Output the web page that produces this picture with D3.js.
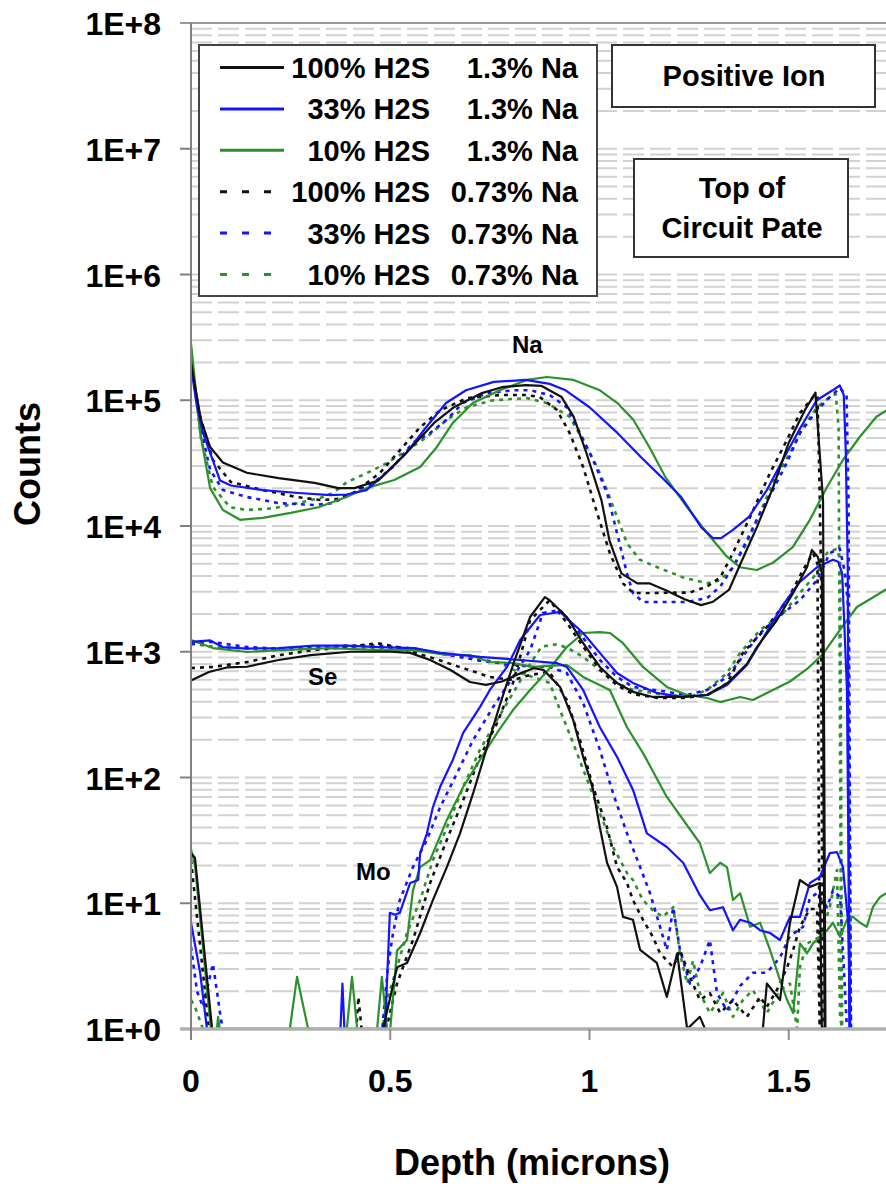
<!DOCTYPE html>
<html><head><meta charset="utf-8">
<script src="https://cdn.jsdelivr.net/npm/d3@7"></script>
<style>
body{margin:0;background:#fff}
svg{display:block}
text{font-family:"Liberation Sans",Arial,sans-serif;font-weight:bold;fill:#000}
</style>
</head><body>
<svg id="c" width="886" height="1188"></svg>
<script>
// ---------- DATA: [depth (microns), counts] ----------
// Na profiles
const na_b1 = [[0,2.0e5],[0.012,1.2e5],[0.025,7.0e4],[0.048,4.25e4],[0.08,3.2e4],[0.14,2.65e4],[0.22,2.4e4],[0.31,2.2e4],[0.37,2.0e4],[0.41,2.0e4],[0.47,2.3e4],[0.54,3.8e4],[0.61,6.6e4],[0.66,8.8e4],[0.73,1.14e5],[0.78,1.27e5],[0.84,1.32e5],[0.88,1.3e5],[0.93,1.06e5],[0.96,7.4e4],[0.99,4.0e4],[1.03,1.6e4],[1.05,7.7e3],[1.08,4.2e3],[1.12,3.5e3],[1.15,3.5e3],[1.19,3.1e3],[1.24,2.6e3],[1.28,2.35e3],[1.31,2.5e3],[1.35,3.1e3],[1.38,5.1e3],[1.42,9.8e3],[1.46,2.0e4],[1.50,4.6e4],[1.54,8.3e4],[1.567,1.15e5],[1.574,5.5e4],[1.586,1.6e4],[1.592,1]];
const na_u1 = [[0,1.85e5],[0.015,9e4],[0.03,5.5e4],[0.073,2.3e4],[0.1,2.1e4],[0.18,1.93e4],[0.27,1.83e4],[0.35,1.76e4],[0.39,1.78e4],[0.44,1.93e4],[0.49,2.64e4],[0.54,3.8e4],[0.59,6.1e4],[0.64,9.5e4],[0.69,1.2e5],[0.76,1.4e5],[0.84,1.45e5],[0.9,1.35e5],[0.94,1.2e5],[1.0,8.8e4],[1.07,5.5e4],[1.13,3.5e4],[1.18,2.46e4],[1.23,1.7e4],[1.28,9.8e3],[1.31,8.0e3],[1.33,8.0e3],[1.36,9.3e3],[1.40,1.18e4],[1.445,1.93e4],[1.485,3.35e4],[1.53,6.1e4],[1.57,1.0e5],[1.61,1.2e5],[1.628,1.31e5],[1.638,1.1e5],[1.643,4e4],[1.648,4.7e3],[1.652,1]];
const na_g1 = [[0,2.85e5],[0.023,5.5e4],[0.048,2.0e4],[0.08,1.34e4],[0.123,1.12e4],[0.18,1.16e4],[0.25,1.27e4],[0.32,1.41e4],[0.39,1.7e4],[0.44,2.0e4],[0.51,2.32e4],[0.575,2.95e4],[0.617,4.25e4],[0.657,6.6e4],[0.707,9.5e4],[0.775,1.2e5],[0.843,1.45e5],[0.893,1.53e5],[0.96,1.45e5],[1.026,1.2e5],[1.07,9.5e4],[1.11,7.0e4],[1.15,4.25e4],[1.19,2.46e4],[1.245,1.41e4],[1.295,8.8e3],[1.345,5.7e3],[1.378,4.7e3],[1.42,4.47e3],[1.46,5.1e3],[1.51,6.8e3],[1.553,1.12e4],[1.596,2.04e4],[1.636,3.35e4],[1.678,5.1e4],[1.72,7.4e4],[1.745,8.3e4]];
const na_b2 = [[0,2.0e5],[0.02,8e4],[0.055,3.35e4],[0.1,2.24e4],[0.18,1.93e4],[0.265,1.7e4],[0.324,1.61e4],[0.366,1.64e4],[0.407,1.83e4],[0.474,2.64e4],[0.524,4.0e4],[0.575,6.1e4],[0.625,8.3e4],[0.693,1.04e5],[0.775,1.1e5],[0.843,1.1e5],[0.875,1.06e5],[0.918,8.4e4],[0.95,5.5e4],[0.984,2.95e4],[1.019,1.27e4],[1.051,6.1e3],[1.084,3.5e3],[1.11,2.93e3],[1.15,2.93e3],[1.21,2.95e3],[1.25,2.95e3],[1.295,3.3e3],[1.328,3.9e3],[1.36,6.1e3],[1.403,1.18e4],[1.453,2.64e4],[1.495,4.8e4],[1.528,7.9e4],[1.561,1.06e5],[1.572,1.1e5],[1.577,2.3e4],[1.581,4.2e3],[1.585,1]];
const na_u2 = [[0,1.8e5],[0.03,5e4],[0.048,2.8e4],[0.08,1.93e4],[0.14,1.7e4],[0.22,1.52e4],[0.31,1.47e4],[0.356,1.52e4],[0.407,1.83e4],[0.457,2.2e4],[0.507,2.95e4],[0.557,4.6e4],[0.6,5.5e4],[0.642,7.0e4],[0.682,9.5e4],[0.743,1.14e5],[0.81,1.2e5],[0.853,1.2e5],[0.9,1.1e5],[0.943,8.8e4],[0.976,5.5e4],[1.009,3.35e4],[1.044,1.83e4],[1.069,8.8e3],[1.094,4.2e3],[1.109,2.93e3],[1.134,2.49e3],[1.194,2.49e3],[1.245,2.49e3],[1.295,2.67e3],[1.328,3.3e3],[1.36,4.7e3],[1.395,7.7e3],[1.428,1.27e4],[1.46,1.93e4],[1.495,3.17e4],[1.528,5.5e4],[1.571,8.3e4],[1.603,1.06e5],[1.628,1.25e5],[1.645,1.1e5],[1.65,1.6e4],[1.656,1]];
const na_g2 = [[0,2.3e5],[0.025,5e4],[0.055,2.04e4],[0.098,1.41e4],[0.141,1.34e4],[0.206,1.38e4],[0.267,1.52e4],[0.324,1.67e4],[0.356,1.83e4],[0.392,2.24e4],[0.442,2.64e4],[0.492,3.17e4],[0.542,4.0e4],[0.592,5.1e4],[0.642,7.0e4],[0.692,8.8e4],[0.758,1.0e5],[0.843,1.04e5],[0.893,9.5e4],[0.95,7.4e4],[0.984,4.8e4],[1.019,2.95e4],[1.044,1.93e4],[1.069,1.18e4],[1.094,7.3e3],[1.126,5.4e3],[1.177,4.6e3],[1.235,3.9e3],[1.295,3.5e3],[1.328,3.7e3],[1.36,4.7e3],[1.395,7.3e3],[1.428,1.27e4],[1.46,2.2e4],[1.503,3.8e4],[1.536,6.1e4],[1.571,8.8e4],[1.603,1.06e5],[1.618,1.12e5],[1.625,6e4],[1.632,1]];

// Se profiles
const se_b1 = [[0,590],[0.045,690],[0.09,750],[0.14,760],[0.22,860],[0.3,940],[0.4,1000],[0.45,1000],[0.5,1000],[0.55,980],[0.6,860],[0.65,720],[0.7,575],[0.74,545],[0.78,580],[0.83,680],[0.86,740],[0.885,716],[0.926,525],[0.959,287],[0.984,146],[1.009,80],[1.026,40],[1.044,21],[1.069,13.5],[1.084,7.8],[1.109,7.4],[1.127,4.25],[1.169,3.35],[1.194,1.8],[1.22,4.0],[1.245,1],[1.277,1.25],[1.29,1],[1.435,1],[1.445,2.3],[1.478,1.7],[1.503,7.0],[1.528,15.3],[1.553,13.5],[1.578,14.5],[1.583,1]];
const se_u1 = [[0,1200],[0.048,1230],[0.08,1090],[0.14,1060],[0.22,1070],[0.31,1120],[0.39,1120],[0.47,1090],[0.56,1070],[0.625,980],[0.725,910],[0.826,860],[0.918,813],[0.943,757],[0.984,497],[1.026,251],[1.069,146],[1.109,80],[1.144,36],[1.194,28],[1.235,21],[1.277,11.6],[1.302,8.8],[1.335,9.3],[1.36,6.1],[1.378,7.4],[1.403,7.0],[1.428,6.1],[1.453,5.8],[1.478,5.1],[1.503,7.8],[1.528,7.8],[1.553,14.5],[1.578,16.2],[1.603,25],[1.621,25.5],[1.636,19.4],[1.649,7.0],[1.654,1]];
const se_g1 = [[0,1240],[0.055,1070],[0.141,995],[0.223,1030],[0.349,1070],[0.474,1030],[0.557,1030],[0.642,942],[0.7,942],[0.75,829],[0.808,813],[0.858,757],[0.943,785],[0.984,630],[1.051,497],[1.094,251],[1.134,157],[1.194,70],[1.277,30],[1.302,17.4],[1.328,21],[1.345,19.4],[1.36,10.6],[1.378,12],[1.403,6.5],[1.428,7],[1.453,4.25],[1.478,2.45],[1.496,1.7],[1.511,1.34],[1.528,4.8],[1.546,4.0],[1.561,4.8],[1.596,6.1],[1.611,7.0],[1.629,5.4],[1.646,7.4],[1.661,7.8],[1.679,7.0],[1.696,6.5],[1.711,9.3],[1.729,11.2],[1.745,12]];
const se_b2 = [[0,742],[0.055,757],[0.141,829],[0.223,942],[0.306,1030],[0.392,1090],[0.467,1170],[0.517,1090],[0.598,908],[0.683,742],[0.75,630],[0.808,596],[0.85,653],[0.9,690],[0.943,413],[0.976,199],[1.009,84],[1.044,40],[1.069,19.4],[1.094,14.5],[1.109,10.6],[1.134,7.4],[1.159,5.4],[1.177,4.0],[1.21,3.1],[1.227,4.25],[1.252,2.6],[1.277,1.7],[1.302,1.93],[1.328,1.34],[1.36,1.7],[1.395,1.25],[1.428,1.8],[1.445,1.5],[1.47,2.04],[1.496,3.1],[1.511,4.25],[1.528,6.5],[1.553,9],[1.571,9],[1.578,1]];
const se_u2 = [[0,1150],[0.05,1200],[0.14,1090],[0.22,1060],[0.31,1090],[0.39,1120],[0.47,1120],[0.56,1060],[0.64,950],[0.725,850],[0.775,813],[0.858,757],[0.9,757],[0.943,677],[0.984,391],[1.026,166],[1.059,75],[1.094,36],[1.127,19.4],[1.152,12],[1.177,6.5],[1.194,4.25],[1.21,9.3],[1.227,4.25],[1.252,2.3],[1.277,3.1],[1.302,5.1],[1.32,1.93],[1.345,1.4],[1.378,2.2],[1.41,2.8],[1.445,2.8],[1.478,3.7],[1.503,5.5],[1.536,6.5],[1.553,11],[1.571,12],[1.596,9.3],[1.611,12.7],[1.629,11.2],[1.646,1]];
const se_g2 = [[0,1160],[0.05,1100],[0.14,1060],[0.22,1030],[0.31,1060],[0.4,1090],[0.5,1060],[0.6,1000],[0.7,910],[0.775,813],[0.826,677],[0.858,630],[0.9,565],[0.926,344],[0.959,188],[0.994,96],[1.026,52],[1.059,28],[1.094,17.4],[1.109,15.3],[1.134,10.6],[1.159,8.8],[1.184,7.8],[1.21,9.3],[1.227,4.0],[1.245,2.3],[1.26,3.5],[1.277,1.93],[1.302,1.34],[1.335,1.93],[1.36,1.25],[1.385,1.7],[1.41,2.04],[1.445,1.34],[1.478,2.04],[1.503,2.3],[1.521,1],[1.528,3.1],[1.546,4.8],[1.578,5.4],[1.603,9.3],[1.621,18.4],[1.629,1.2],[1.635,1]];

// Mo profiles
const mo_b1 = [[0,25],[0.01,23],[0.053,1],[0.482,1],[0.517,3.1],[0.542,3.35],[0.575,5.8],[0.607,10.6],[0.642,19.4],[0.675,36],[0.708,75],[0.743,175],[0.775,377],[0.808,785],[0.851,1890],[0.888,2720],[0.9,2570],[0.943,1890],[0.984,1170],[1.026,757],[1.069,565],[1.109,480],[1.159,437],[1.235,437],[1.295,453],[1.345,560],[1.395,800],[1.42,1090],[1.47,1780],[1.511,2930],[1.546,4720],[1.558,6450],[1.573,5670],[1.583,4230],[1.586,497],[1.59,1]];
const mo_u1 = [[0,7],[0.023,2.8],[0.04,1],[0.375,1],[0.38,2.3],[0.385,1],[0.487,1],[0.499,8.4],[0.512,8.1],[0.524,8.4],[0.55,14.5],[0.57,15.3],[0.575,25],[0.592,36],[0.607,58],[0.625,84],[0.657,138],[0.683,226],[0.725,363],[0.75,497],[0.793,757],[0.826,1240],[0.876,1960],[0.926,2070],[0.984,1410],[1.026,980],[1.069,677],[1.109,565],[1.169,470],[1.235,437],[1.295,453],[1.345,543],[1.395,785],[1.445,1440],[1.485,2350],[1.528,3590],[1.571,4700],[1.611,5400],[1.624,5200],[1.634,4200],[1.641,1240],[1.646,497],[1.654,1]];
const mo_g1 = [[0,27],[0.01,20],[0.05,1],[0.065,1],[0.068,1.25],[0.072,1],[0.248,1],[0.266,2.6],[0.294,1],[0.391,1],[0.404,2.6],[0.417,1],[0.467,1],[0.479,2.6],[0.492,1],[0.5,1],[0.517,4.2],[0.542,5.1],[0.557,12.7],[0.575,19.4],[0.6,22],[0.642,46],[0.683,84],[0.725,138],[0.768,226],[0.808,344],[0.851,497],[0.901,742],[0.943,1090],[0.984,1410],[1.026,1430],[1.051,1410],[1.084,1170],[1.134,757],[1.194,525],[1.245,453],[1.295,429],[1.328,398],[1.378,437],[1.41,413],[1.445,470],[1.503,580],[1.546,730],[1.586,960],[1.629,1500],[1.671,2270],[1.711,2700],[1.745,3150]];
const mo_b2 = [[0,22],[0.045,1],[0.415,1],[0.42,1.8],[0.428,1],[0.49,1],[0.517,2.3],[0.557,5.1],[0.6,14.5],[0.642,32],[0.683,66],[0.725,146],[0.768,271],[0.808,565],[0.851,1780],[0.9,2570],[0.943,1700],[0.984,1100],[1.026,720],[1.069,540],[1.11,460],[1.17,430],[1.235,430],[1.295,450],[1.345,560],[1.385,980],[1.445,1570],[1.496,2570],[1.536,4470],[1.561,6100],[1.572,5000],[1.578,1]];
const mo_u2 = [[0,4.5],[0.015,2],[0.03,1.5],[0.055,3.3],[0.065,2],[0.075,1.2],[0.08,1],[0.48,1],[0.494,3.1],[0.507,5.8],[0.524,10.6],[0.557,19.4],[0.592,32],[0.625,58],[0.668,109],[0.708,199],[0.758,363],[0.808,630],[0.851,1030],[0.883,2030],[0.926,2150],[0.969,1490],[1.026,860],[1.069,630],[1.109,525],[1.194,480],[1.245,453],[1.295,497],[1.345,630],[1.378,860],[1.428,1410],[1.486,2030],[1.528,2570],[1.571,3720],[1.603,6100],[1.628,6600],[1.641,4230],[1.649,2270],[1.656,1]];
const mo_g2 = [[0,1.7],[0.01,1.5],[0.03,1],[0.48,1],[0.492,1.7],[0.517,3.1],[0.542,5.8],[0.575,10.6],[0.607,22],[0.642,40],[0.683,84],[0.725,166],[0.768,287],[0.808,470],[0.851,800],[0.88,1100],[0.92,1150],[0.95,1050],[0.984,908],[1.026,716],[1.069,565],[1.109,497],[1.194,453],[1.252,437],[1.295,497],[1.345,677],[1.378,980],[1.428,1490],[1.486,2030],[1.528,2930],[1.571,4230],[1.596,6100],[1.621,6600],[1.629,5400],[1.634,1]];

// Legend / tick text
const legendH2S = ["100% H2S","33% H2S","10% H2S","100% H2S","33% H2S","10% H2S"];
const legendNa  = ["1.3% Na","1.3% Na","1.3% Na","0.73% Na","0.73% Na","0.73% Na"];
const yTickValues = [1e0,1e1,1e2,1e3,1e4,1e5,1e6,1e7,1e8];
const yTickLabels = ["1E+0","1E+1","1E+2","1E+3","1E+4","1E+5","1E+6","1E+7","1E+8"];
const xTickValues = [0,0.5,1,1.5];
const xTickLabels = ["0","0.5","1","1.5"];
const elementLabels = ["Na","Se","Mo"];

// ---------- DRAWING ----------
const svg = d3.select("#c");
const pL = 191, pR = 886, pT = 23, pB = 1029;
const x = d3.scaleLinear().domain([0, 1.744]).range([pL, pR]);
const y = d3.scaleLog().domain([1, 1e8]).range([pB, pT]);

const colors = ["#111111","#1414ff","#2b922b","#111111","#1414ff","#2b922b"];
const dashes = [null,null,null,"4,5","4,5","4,5"];

// gridlines (minor + major, dashed)
const grid = svg.append("g");
for (let k = 0; k < 8; k++) {
  for (let m = 1; m <= 9; m++) {
    const v = m * Math.pow(10, k);
    if (v === 1) continue;
    grid.append("line").attr("x1", pL).attr("x2", pR)
      .attr("y1", y(v)).attr("y2", y(v))
      .attr("stroke", "#d2d2d2").attr("stroke-width", 2)
      .attr("stroke-dasharray", "21,6");
  }
}
// top border
svg.append("line").attr("x1", 180).attr("x2", pR).attr("y1", y(1e8)).attr("y2", y(1e8))
  .attr("stroke", "#9a9a9a").attr("stroke-width", 2);

// clip
svg.append("clipPath").attr("id","clip").append("rect")
  .attr("x", pL).attr("y", pT).attr("width", pR-pL).attr("height", pB-pT);

const line = d3.line().x(d => x(d[0])).y(d => y(Math.max(d[1], 1)));
const curves = [
  [na_b1,0],[na_u1,1],[na_g1,2],[na_b2,3],[na_u2,4],[na_g2,5],
  [se_b1,0],[se_u1,1],[se_g1,2],[se_b2,3],[se_u2,4],[se_g2,5],
  [mo_b1,0],[mo_u1,1],[mo_g1,2],[mo_b2,3],[mo_u2,4],[mo_g2,5]
];
const plot = svg.append("g").attr("clip-path","url(#clip)");
[5,4,3,2,1,0].forEach(s => {
  curves.filter(c => c[1] === s).forEach(c => {
    plot.append("path").datum(c[0]).attr("d", line)
      .attr("fill","none").attr("stroke", colors[s])
      .attr("stroke-width", s < 3 ? 2.2 : 2.6)
      .attr("stroke-dasharray", dashes[s])
      .attr("stroke-linejoin","round");
  });
});

// axes
svg.append("line").attr("x1", 180).attr("x2", pR).attr("y1", pB).attr("y2", pB)
  .attr("stroke", "#b0b0b0").attr("stroke-width", 3.5);
svg.append("line").attr("x1", pL).attr("x2", pL).attr("y1", pT).attr("y2", 1040)
  .attr("stroke", "#808080").attr("stroke-width", 2);
yTickValues.forEach((v,i) => {
  if (i > 0 && i < 8) svg.append("line").attr("x1",180).attr("x2",pL).attr("y1",y(v)).attr("y2",y(v))
    .attr("stroke","#808080").attr("stroke-width",2);
  svg.append("text").attr("x", 161).attr("y", y(v) + 12).attr("text-anchor","end")
    .style("font-size","32px").text(yTickLabels[i]);
});
xTickValues.forEach((v,i) => {
  if (v > 0) svg.append("line").attr("x1",x(v)).attr("x2",x(v)).attr("y1",pB).attr("y2",1040)
    .attr("stroke","#909090").attr("stroke-width",2);
  svg.append("text").attr("x", x(v)).attr("y", 1092).attr("text-anchor","middle")
    .style("font-size","32px").text(xTickLabels[i]);
});
svg.append("text").attr("x", 532).attr("y", 1175).attr("text-anchor","middle")
  .style("font-size","36px").text("Depth (microns)");
svg.append("text").attr("transform","translate(40,464) rotate(-90)").attr("text-anchor","middle")
  .style("font-size","36px").text("Counts");

// element labels
const elemPos = [[512,353],[308,685],[356,880]];
elementLabels.forEach((t,i) => svg.append("text").attr("x",elemPos[i][0]).attr("y",elemPos[i][1])
  .style("font-size","24px").text(t));

// legend
const lg = svg.append("g");
lg.append("rect").attr("x",199).attr("y",45).attr("width",398).attr("height",251)
  .attr("fill","#fff").attr("stroke","#444").attr("stroke-width",2);
legendH2S.forEach((t,i) => {
  const cy = 67.5 + i * 41.4;
  lg.append("line").attr("x1",220).attr("x2",284).attr("y1",cy).attr("y2",cy)
    .attr("stroke",colors[i]).attr("stroke-width",3)
    .attr("stroke-dasharray", dashes[i] ? "7,15" : null);
  lg.append("text").attr("x",430).attr("y",cy+10.5).attr("text-anchor","end")
    .style("font-size","29px").text(t);
  lg.append("text").attr("x",578).attr("y",cy+10.5).attr("text-anchor","end")
    .style("font-size","29px").text(legendNa[i]);
});

// annotation boxes
svg.append("rect").attr("x",612).attr("y",45).attr("width",263).attr("height",62)
  .attr("fill","#fff").attr("stroke","#333").attr("stroke-width",2);
svg.append("text").attr("x",744).attr("y",86).attr("text-anchor","middle")
  .style("font-size","29px").text("Positive Ion");
svg.append("rect").attr("x",634).attr("y",159).attr("width",214).attr("height",98)
  .attr("fill","#fff").attr("stroke","#333").attr("stroke-width",2);
svg.append("text").attr("x",742).attr("y",198).attr("text-anchor","middle")
  .style("font-size","29px").text("Top of");
svg.append("text").attr("x",742).attr("y",238).attr("text-anchor","middle")
  .style("font-size","29px").text("Circuit Pate");
</script>
</body></html>
